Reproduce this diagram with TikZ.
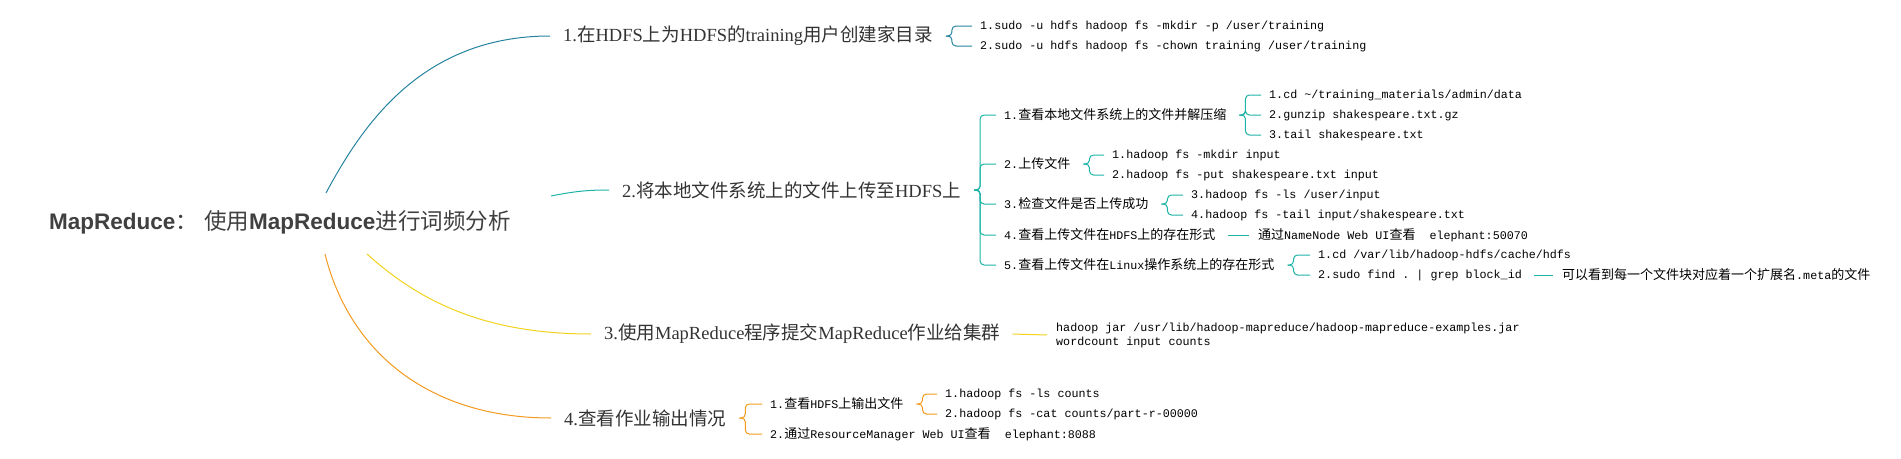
\documentclass[tikz,border=0pt]{standalone}
\usepackage{fontspec}
\setmonofont{Liberation Mono}[Scale=0.9]
\newfontfamily\cjk{Noto Sans CJK SC}
\newfontfamily\slab{Liberation Serif}
\newfontfamily\rootsans{Liberation Sans}
\newcommand{\zh}[1]{{\cjk #1}}
\usepackage{tikz}
\usetikzlibrary{positioning}
\definecolor{bOne}{HTML}{2683A0}
\definecolor{bTwo}{HTML}{1DB3A6}
\definecolor{bThree}{HTML}{F2D21B}
\definecolor{bFour}{HTML}{F39A1E}
\definecolor{rootgrey}{HTML}{404040}
\definecolor{topicgrey}{HTML}{333333}

\begin{document}
\begin{tikzpicture}[x=1pt, y=-1pt,
	root/.style={anchor=west, inner sep=0pt, text=rootgrey, font=\rootsans\fontsize{22.5}{26}\selectfont},
	topic/.style={anchor=west, inner sep=0pt, text=topicgrey, font=\slab\fontsize{18.5}{22}\selectfont},
	item/.style={anchor=west, inner sep=0pt, font=\ttfamily\fontsize{13}{14}\selectfont},
	fork/.style={rounded corners=4pt, to path={([xshift=13pt]\tikztostart.east) -- ++(6,0) |- ([xshift=-8pt]\tikztotarget.west)}},
	link/.style={to path={([xshift=12pt]\tikztostart.east) -- ([xshift=-9pt]\tikztotarget.west)}},
	branch/.style={line width=1pt}
]
\useasboundingbox (0,0) rectangle (1901,458);

\node[root] (root) at (49,222) {\textbf{MapReduce}\zh{：} \zh{使用}\textbf{MapReduce}\zh{进行词频分析}};
\coordinate (rt1) at (326,193);
\coordinate (rt2) at (551,196);
\coordinate (rt3) at (367,254);
\coordinate (rt4) at (325,254);

\node[topic] (b1) at (563,36) {1.\zh{在}HDFS\zh{上为}HDFS\zh{的}training\zh{用户创建家目录}};
\node[topic] (b2) at (622,190) {2.\zh{将本地文件系统上的文件上传至}HDFS\zh{上}};
\node[topic] (b3) at (604,334) {3.\zh{使用}MapReduce\zh{程序提交}MapReduce\zh{作业给集群}};
\node[topic] (b4) at (564,418) {4.\zh{查看作业输出情况}};

\node[item] (c11) at (980,26) {1.sudo -u hdfs hadoop fs -mkdir -p /user/training};
\node[item] (c12) at (980,46) {2.sudo -u hdfs hadoop fs -chown training /user/training};

\node[item] (c21) at (1004,115) {1.\zh{查看本地文件系统上的文件并解压缩}};
\node[item] (c22) at (1004,164) {2.\zh{上传文件}};
\node[item] (c23) at (1004,204) {3.\zh{检查文件是否上传成功}};
\node[item] (c24) at (1004,235) {4.\zh{查看上传文件在}HDFS\zh{上的存在形式}};
\node[item] (c25) at (1004,265) {5.\zh{查看上传文件在}Linux\zh{操作系统上的存在形式}};
\node[item] (d211) at (1269,95) {1.cd \textasciitilde/training\_materials/admin/data};
\node[item] (d212) at (1269,115) {2.gunzip shakespeare.txt.gz};
\node[item] (d213) at (1269,135) {3.tail shakespeare.txt};
\node[item] (d221) at (1112,155) {1.hadoop fs -mkdir input};
\node[item] (d222) at (1112,175) {2.hadoop fs -put shakespeare.txt input};
\node[item] (d231) at (1191,195) {3.hadoop fs -ls /user/input};
\node[item] (d232) at (1191,215) {4.hadoop fs -tail input/shakespeare.txt};
\node[item] (d241) at (1258,235) {\zh{通过}NameNode Web UI\zh{查看}~~elephant:50070};
\node[item] (d251) at (1318,255) {1.cd /var/lib/hadoop-hdfs/cache/hdfs};
\node[item] (d252) at (1318,275) {2.sudo find . | grep block\_id};
\node[item] (e252) at (1562,275) {\zh{可以看到每一个文件块对应着一个扩展名}.meta\zh{的文件}};

\node[item, align=left] (c31) at (1056,335) {hadoop jar /usr/lib/hadoop-mapreduce/hadoop-mapreduce-examples.jar\\wordcount input counts};

\node[item] (c41) at (770,404) {1.\zh{查看}HDFS\zh{上输出文件}};
\node[item] (c42) at (770,434) {2.\zh{通过}ResourceManager Web UI\zh{查看}~~elephant:8088};
\node[item] (d411) at (945,394) {1.hadoop fs -ls counts};
\node[item] (d412) at (945,414) {2.hadoop fs -cat counts/part-r-00000};

\draw[bOne, branch] (rt1) .. controls +(35,-65) and +(-130,0) .. ([xshift=-13pt]b1.west);
\draw[bTwo, branch] (rt2) .. controls +(25,-5) and +(-20,0) .. ([xshift=-13pt]b2.west);
\draw[bThree, branch] (rt3) .. controls +(50,45) and +(-110,0) .. ([xshift=-13pt]b3.west);
\draw[bFour, branch] (rt4) .. controls +(25,100) and +(-120,0) .. ([xshift=-13pt]b4.west);

\path[bOne, branch]
(b1) edge[fork] (c11)
(b1) edge[fork] (c12)
;
\path[bTwo, branch]
(b2) edge[fork] (c21)
(b2) edge[fork] (c22)
(b2) edge[fork] (c23)
(b2) edge[fork] (c24)
(b2) edge[fork] (c25)
(c21) edge[fork] (d211)
(c21) edge[fork] (d212)
(c21) edge[fork] (d213)
(c22) edge[fork] (d221)
(c22) edge[fork] (d222)
(c23) edge[fork] (d231)
(c23) edge[fork] (d232)
(c24) edge[link] (d241)
(c25) edge[fork] (d251)
(c25) edge[fork] (d252)
(d252) edge[link] (e252)
;
\path[bThree, branch]
(b3) edge[link] (c31)
;
\path[bFour, branch]
(b4) edge[fork] (c41)
(b4) edge[fork] (c42)
(c41) edge[fork] (d411)
(c41) edge[fork] (d412)
;
\end{tikzpicture}
\end{document}
